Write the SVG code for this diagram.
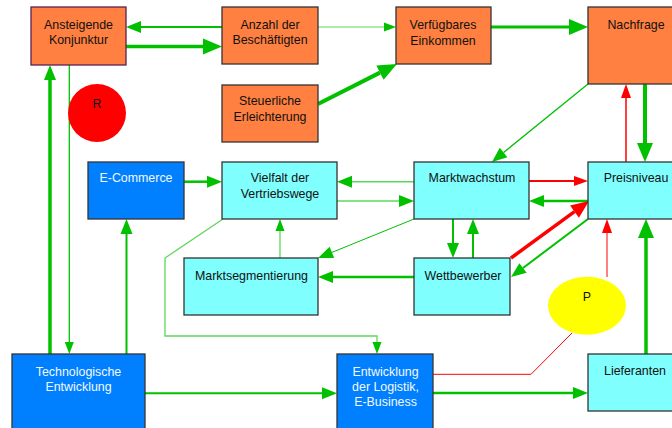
<svg xmlns="http://www.w3.org/2000/svg" width="672" height="428" viewBox="0 0 672 428">
<style>
.or{fill:#ff8040;stroke:#333;stroke-width:1.3}
.cy{fill:#80ffff;stroke:#333;stroke-width:1.3}
.bl{fill:#0080ff;stroke:#333;stroke-width:1.3}
text{font-family:"Liberation Sans",Arial,sans-serif;font-size:12.4px;fill:#111;text-anchor:middle}
.w{fill:#f4f8ff}
.g{fill:none;stroke:#00c000}
.lg{fill:none;stroke:#5cd85c}
.r{fill:none;stroke:#ff0000}
</style>
<defs>
<marker id="gS" markerUnits="userSpaceOnUse" markerWidth="12" markerHeight="9" refX="0" refY="4.5" orient="auto" overflow="visible"><path d="M0,0 L12,4.5 L0,9 z" fill="#00c000"/></marker>
<marker id="gM" markerUnits="userSpaceOnUse" markerWidth="15" markerHeight="12" refX="0" refY="6" orient="auto" overflow="visible"><path d="M0,0 L15,6 L0,12 z" fill="#00c000"/></marker>
<marker id="gL" markerUnits="userSpaceOnUse" markerWidth="19" markerHeight="16" refX="0" refY="8" orient="auto" overflow="visible"><path d="M0,0 L19,8 L0,16 z" fill="#00c000"/></marker>
<marker id="rS" markerUnits="userSpaceOnUse" markerWidth="14" markerHeight="10" refX="0" refY="5" orient="auto" overflow="visible"><path d="M0,0 L14,5 L0,10 z" fill="#ff0000"/></marker>
<marker id="rL" markerUnits="userSpaceOnUse" markerWidth="18" markerHeight="15" refX="0" refY="7.5" orient="auto" overflow="visible"><path d="M0,0 L18,7.5 L0,15 z" fill="#ff0000"/></marker>
</defs>
<g id="connectors">
<path class="g" stroke-width="2" d="M222,27 H141" marker-end="url(#gM)"/>
<path class="g" stroke-width="3.5" d="M126,46.5 H203" marker-end="url(#gL)"/>
<path class="lg" stroke-width="1" d="M318,27 H384" marker-end="url(#gS)"/>
<path class="g" stroke-width="3" d="M491,27 H569" marker-end="url(#gL)"/>
<path class="g" stroke-width="4" d="M318,104 L380,72.6" marker-end="url(#gL)"/>
<path class="g" stroke-width="1.3" d="M588,84 L503.6,152.5" marker-end="url(#gM)"/>
<path class="r" stroke-width="1.5" d="M626,162 V98" marker-end="url(#rS)"/>
<path class="g" stroke-width="4" d="M645,84 V143" marker-end="url(#gL)"/>
<path class="lg" stroke-width="1.5" d="M414,181.7 H352" marker-end="url(#gM)"/>
<path class="lg" stroke-width="1.5" d="M337,201 H399" marker-end="url(#gM)"/>
<path class="g" stroke-width="1" d="M414,219 L331.9,252.4" marker-end="url(#gM)"/>
<path class="g" stroke-width="2.5" d="M414,277 H333" marker-end="url(#gM)"/>
<path class="lg" stroke-width="1.3" d="M280,258 V231" marker-end="url(#gS)"/>
<path class="g" stroke-width="2" d="M453,219 V243" marker-end="url(#gM)"/>
<path class="g" stroke-width="2" d="M473,258 V234" marker-end="url(#gM)"/>
<path class="r" stroke-width="2" d="M529,181 H574" marker-end="url(#rS)"/>
<path class="g" stroke-width="2.5" d="M588,201 H544" marker-end="url(#gM)"/>
<path class="r" stroke-width="3.5" d="M511,258 L574.5,211.6" marker-end="url(#rL)"/>
<path class="g" stroke-width="2" d="M588,219 L523,268" marker-end="url(#gM)"/>
<path class="r" stroke-width="1" d="M607,277 V233" marker-end="url(#rS)"/>
<path class="g" stroke-width="3.5" d="M646,354 V238" marker-end="url(#gL)"/>
<path class="g" stroke-width="3.5" d="M50,354 V80" marker-end="url(#gM)"/>
<path class="g" stroke-width="1.3" d="M69.3,65 V342" marker-end="url(#gS)"/>
<path class="g" stroke-width="2" d="M126.5,354 V234" marker-end="url(#gM)"/>
<path class="g" stroke-width="2.5" d="M184,181.7 H207" marker-end="url(#gM)"/>
<path class="lg" stroke-width="1.3" d="M223,219 L165,258 V336 H377 V342" marker-end="url(#gS)"/>
<path class="g" stroke-width="2" d="M145,393.3 H322" marker-end="url(#gM)"/>
<path class="g" stroke-width="2.5" d="M433,393 H573" marker-end="url(#gM)"/>
<path class="r" stroke-width="1" d="M433,374.3 H531 L572,333"/>
</g>
<g id="ansteigende-konjunktur"><rect x="31" y="7" width="95" height="58" fill="#ff8040" stroke="#5a2050" stroke-width="1.3"/><text x="78.5" y="28.5">Ansteigende</text><text x="78.5" y="43.5">Konjunktur</text></g>
<g id="anzahl-beschaeftigten"><rect class="or" x="222" y="7" width="96" height="57"/><text x="270" y="28.5">Anzahl der</text><text x="270" y="43.5">Beschäftigten</text></g>
<g id="steuerliche-erleichterung"><rect class="or" x="222" y="85" width="96" height="57"/><text x="270" y="105">Steuerliche</text><text x="270" y="121">Erleichterung</text></g>
<g id="verfuegbares-einkommen"><rect class="or" x="396" y="7" width="95" height="57"/><text x="443" y="28.5">Verfügbares</text><text x="443" y="44.5">Einkommen</text></g>
<g id="nachfrage"><rect class="or" x="588" y="7" width="96" height="77"/><text x="636" y="28.5">Nachfrage</text></g>
<g id="r"><circle cx="97" cy="113" r="29" fill="#ff0000"/><text x="97" y="107.5">R</text></g>
<g id="e-commerce"><rect class="bl" x="88" y="162" width="96" height="57"/><text class="w" x="136" y="182">E-Commerce</text></g>
<g id="vielfalt"><rect class="cy" x="222" y="162" width="115" height="57"/><text x="280" y="182">Vielfalt der</text><text x="280" y="197.8">Vertriebswege</text></g>
<g id="marktwachstum"><rect class="cy" x="414" y="162" width="115" height="57"/><text x="472" y="182">Marktwachstum</text></g>
<g id="preisniveau"><rect class="cy" x="588" y="162" width="96" height="57"/><text x="636" y="182">Preisniveau</text></g>
<g id="marktsegmentierung"><rect class="cy" x="184" y="258" width="134" height="57"/><text x="251.5" y="279.5">Marktsegmentierung</text></g>
<g id="wettbewerber"><rect class="cy" x="414" y="258" width="96" height="57"/><text x="463" y="279.5">Wettbewerber</text></g>
<g id="p"><ellipse cx="587" cy="305.7" rx="39" ry="29" fill="#ffff00"/><text x="587" y="300.5">P</text></g>
<g id="technologische-entwicklung"><rect class="bl" x="12" y="354" width="133" height="80"/><text class="w" x="78.5" y="375.5">Technologische</text><text class="w" x="78.5" y="390.5">Entwicklung</text></g>
<g id="entwicklung-logistik"><rect class="bl" x="337" y="354" width="96" height="80"/><text class="w" x="385.5" y="375.5">Entwicklung</text><text class="w" x="385.5" y="390.5">der Logistik,</text><text class="w" x="385.5" y="406">E-Business</text></g>
<g id="lieferanten"><rect class="cy" x="588" y="354" width="96" height="57"/><text x="635" y="375">Lieferanten</text></g>
</svg>
